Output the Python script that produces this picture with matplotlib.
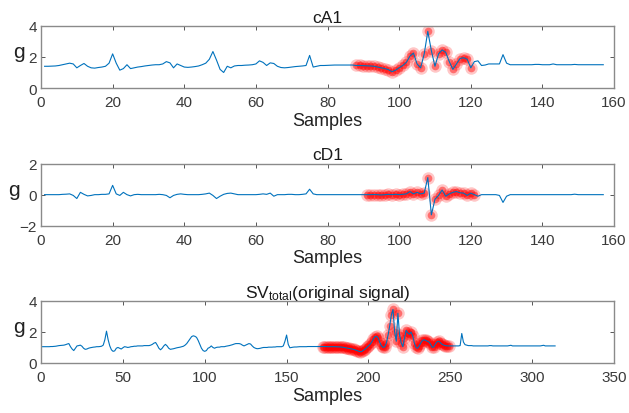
import numpy as np
import matplotlib.pyplot as plt

plt.rcParams['font.family'] = ['Liberation Sans', 'DejaVu Sans']
plt.rcParams['mathtext.fontset'] = 'custom'
plt.rcParams['mathtext.rm'] = 'Liberation Sans'
plt.rcParams['mathtext.it'] = 'Liberation Sans'

# cA1 approximation coefficients (samples 1..157)
cA1 = [
    1.40, 1.40, 1.41, 1.42, 1.45, 1.50, 1.55, 1.60, 1.55, 1.30,
    1.45, 1.58, 1.40, 1.30, 1.28, 1.32, 1.35, 1.40, 1.60, 2.20,
    1.60, 1.15, 1.25, 1.50, 1.25, 1.30, 1.35, 1.38, 1.42, 1.45,
    1.48, 1.50, 1.50, 1.55, 1.70, 1.62, 1.30, 1.55, 1.45, 1.35,
    1.33, 1.35, 1.38, 1.42, 1.50, 1.60, 1.85, 2.35, 1.80, 1.20,
    1.00, 1.40, 1.30, 1.42, 1.45, 1.45, 1.47, 1.48, 1.50, 1.55,
    1.75, 1.65, 1.45, 1.62, 1.58, 1.40, 1.32, 1.30, 1.32, 1.35,
    1.38, 1.40, 1.42, 1.45, 2.10, 1.35, 1.40, 1.45, 1.45, 1.46,
    1.47, 1.48, 1.48, 1.48, 1.48, 1.48, 1.48, 1.45, 1.45, 1.44,
    1.43, 1.42, 1.40, 1.35, 1.30, 1.25, 1.18, 1.05, 1.15, 1.30,
    1.45, 1.65, 2.05, 2.25, 1.55, 1.30, 2.20, 3.65, 2.40, 1.40,
    2.20, 2.45, 2.30, 1.70, 1.20, 1.55, 1.90, 1.95, 1.85, 1.30,
    1.70, 1.75, 1.45, 1.48, 1.55, 1.55, 1.55, 1.55, 2.15, 1.60,
    1.50, 1.50, 1.50, 1.50, 1.50, 1.50, 1.50, 1.52, 1.52, 1.50,
    1.50, 1.50, 1.55, 1.50, 1.50, 1.50, 1.50, 1.50, 1.52, 1.50,
    1.50, 1.50, 1.50, 1.50, 1.50, 1.50, 1.50,
]

# cD1 detail coefficients (samples 1..157)
cD1 = [
    0, 0, 0, 0, 0, 0.02, 0.03, 0.05, -0.05, -0.25,
    0.15, 0.02, -0.08, -0.05, 0, 0, 0.02, 0.02, 0.05, 0.60,
    0.05, -0.05, 0.15, 0, -0.08, 0, 0.02, 0, 0, 0,
    0, 0, 0.02, 0, -0.05, -0.20, -0.05, 0.02, 0.05, 0.02,
    0, 0, 0, 0, 0.02, 0.05, 0.10, -0.05, -0.25, -0.10,
    0.02, 0.08, 0.10, 0.05, 0, 0, 0, 0, 0, 0,
    0.02, 0.05, 0.02, 0.10, -0.10, 0, 0, 0, 0.02, 0.02,
    0, 0, 0.02, 0.05, 0.35, 0.05, 0, 0, 0, 0,
    0, 0, 0, 0, 0, 0, 0, 0, 0, 0,
    0, 0, 0.01, 0, -0.02, 0, 0.02, 0, 0.02, 0,
    0.02, 0.05, 0.20, 0.05, 0.15, 0.05, 0.10, 1.10, -1.30, -0.30,
    -0.05, 0.30, -0.10, 0.05, 0.15, 0.20, 0.12, 0.10, -0.05, 0.10,
    0, -0.10, 0, 0, 0, 0, 0, -0.05, -0.50, -0.10,
    0, 0, 0, 0, 0, 0, 0, 0, 0, 0,
    0, 0, 0, 0, 0, 0, 0, 0, 0.03, 0,
    0, 0, 0, 0, 0, 0, 0,
]

# SV_total original signal (samples 1..314)
sv_total = [
    1.05, 1.05, 1.05, 1.05, 1.05, 1.06, 1.06, 1.07, 1.08, 1.10,
    1.12, 1.13, 1.14, 1.15, 1.18, 1.22, 1.25, 1.05, 0.90, 0.80,
    0.95, 1.10, 1.12, 1.15, 1.08, 0.95, 0.88, 0.90, 0.95, 0.98,
    1.00, 1.02, 1.03, 1.05, 1.05, 1.06, 1.08, 1.15, 1.50, 2.05,
    1.50, 1.10, 0.85, 0.75, 0.78, 0.95, 1.00, 0.95, 0.90, 0.98,
    1.05, 1.03, 1.00, 1.02, 1.05, 1.06, 1.08, 1.08, 1.10, 1.10,
    1.10, 1.10, 1.12, 1.12, 1.12, 1.12, 1.15, 1.20, 1.28, 1.32,
    1.15, 0.95, 0.85, 0.95, 1.10, 1.20, 1.10, 0.95, 0.88, 0.90,
    0.92, 0.95, 0.98, 1.00, 1.02, 1.05, 1.08, 1.15, 1.25, 1.40,
    1.55, 1.70, 1.75, 1.72, 1.65, 1.45, 1.20, 0.95, 0.80, 0.75,
    0.80, 0.95, 1.00, 1.10, 1.00, 0.95, 1.00, 1.02, 1.02, 1.05,
    1.05, 1.05, 1.08, 1.10, 1.12, 1.15, 1.18, 1.22, 1.25, 1.25,
    1.25, 1.22, 1.15, 1.10, 1.15, 1.20, 1.25, 1.22, 1.10, 1.00,
    0.95, 0.92, 0.93, 0.95, 0.98, 1.00, 1.00, 1.00, 1.02, 1.02,
    1.02, 1.03, 1.03, 1.05, 1.05, 1.05, 1.05, 1.10, 1.40, 1.80,
    1.20, 0.98, 1.00, 1.02, 1.03, 1.03, 1.04, 1.05, 1.05, 1.05,
    1.05, 1.05, 1.06, 1.06, 1.06, 1.06, 1.06, 1.06, 1.06, 1.06,
    1.06, 1.06, 1.06, 1.06, 1.05, 1.05, 1.05, 1.05, 1.05, 1.05,
    1.04, 1.04, 1.03, 1.02, 1.00, 0.98, 0.96, 0.94, 0.92, 0.90,
    0.87, 0.84, 0.80, 0.76, 0.72, 0.75, 0.82, 0.90, 1.00, 1.10,
    1.20, 1.35, 1.55, 1.70, 1.72, 1.60, 1.30, 1.10, 1.00, 1.05,
    1.30, 1.80, 2.40, 3.10, 3.45, 2.00, 1.40, 3.20, 1.80, 1.30,
    1.05, 1.60, 2.10, 1.95, 1.85, 2.00, 1.75, 1.30, 1.00, 0.95,
    1.10, 1.30, 1.45, 1.50, 1.45, 1.40, 1.35, 1.20, 1.00, 1.05,
    1.25, 1.38, 1.40, 1.30, 1.20, 1.15, 1.12, 1.10, 1.10, 1.10,
    1.10, 1.10, 1.10, 1.10, 1.10, 1.12, 1.90, 1.35, 1.18, 1.15,
    1.12, 1.12, 1.12, 1.10, 1.10, 1.10, 1.10, 1.10, 1.10, 1.10,
    1.10, 1.10, 1.10, 1.12, 1.12, 1.10, 1.10, 1.10, 1.10, 1.10,
    1.10, 1.10, 1.10, 1.10, 1.10, 1.12, 1.14, 1.10, 1.10, 1.10,
    1.10, 1.10, 1.10, 1.10, 1.10, 1.10, 1.10, 1.10, 1.10, 1.10,
    1.10, 1.10, 1.10, 1.10, 1.10, 1.12, 1.14, 1.10, 1.10, 1.10,
    1.10, 1.10, 1.10, 1.10,
]

# highlighted (event) sample ranges, inclusive
cA1_event = (88, 120)
cD1_event = (91, 121)
sv_event = (172, 249)

panels = [
    ("cA1", cA1, cA1_event, (0, 160), (0, 4), [0, 2, 4]),
    ("cD1", cD1, cD1_event, (0, 160), (-2, 2), [-2, 0, 2]),
    (r"SV$_{\mathrm{total}}$(original signal)", sv_total, sv_event, (0, 350), (0, 4), [0, 2, 4]),
]

fig = plt.figure(figsize=(6.29, 4.14), dpi=100)
bottoms = [0.785, 0.4524, 0.1208]
label_x = [-0.038, -0.047, -0.038]
blue = '#0072BD'
gray = '#8a8a8a'
txt = '#3a3a3a'

for (title, vals, ev, xl, yl, yt), b, lx in zip(panels, bottoms, label_x):
    ax = fig.add_axes([0.0652, b, 0.911, 0.150])
    y = np.array(vals, dtype=float)
    x = np.arange(1, len(y) + 1)
    m = (x >= ev[0]) & (x <= ev[1])
    # soft halo + stronger core for the highlighted samples
    ax.plot(x[m], y[m], 'o', color='red', alpha=0.22, markersize=9,
            markeredgewidth=0, zorder=2)
    ax.plot(x[m], y[m], 'o', color='red', alpha=0.45, markersize=5.5,
            markeredgewidth=0, zorder=2)
    ax.plot(x, y, color=blue, lw=0.8, zorder=3)
    ax.set_xlim(*xl)
    ax.set_ylim(*yl)
    ax.set_yticks(yt)
    ax.set_title(title, fontsize=12.5, color='#1a1a1a', pad=3)
    ax.set_xlabel("Samples", fontsize=13, color='#222222', labelpad=2)
    ax.set_ylabel("g", fontsize=15, rotation=0, color='#222222', va='center', ha='center')
    ax.yaxis.set_label_coords(lx, 0.58)
    ax.tick_params(direction='in', length=3, width=0.6, top=True, right=True,
                   labelsize=11, colors=txt, pad=3)
    ax.tick_params(axis='x', pad=5)
    for s in ax.spines.values():
        s.set_color(gray)
        s.set_linewidth(1.0)

fig.savefig('out.png', dpi=100)
